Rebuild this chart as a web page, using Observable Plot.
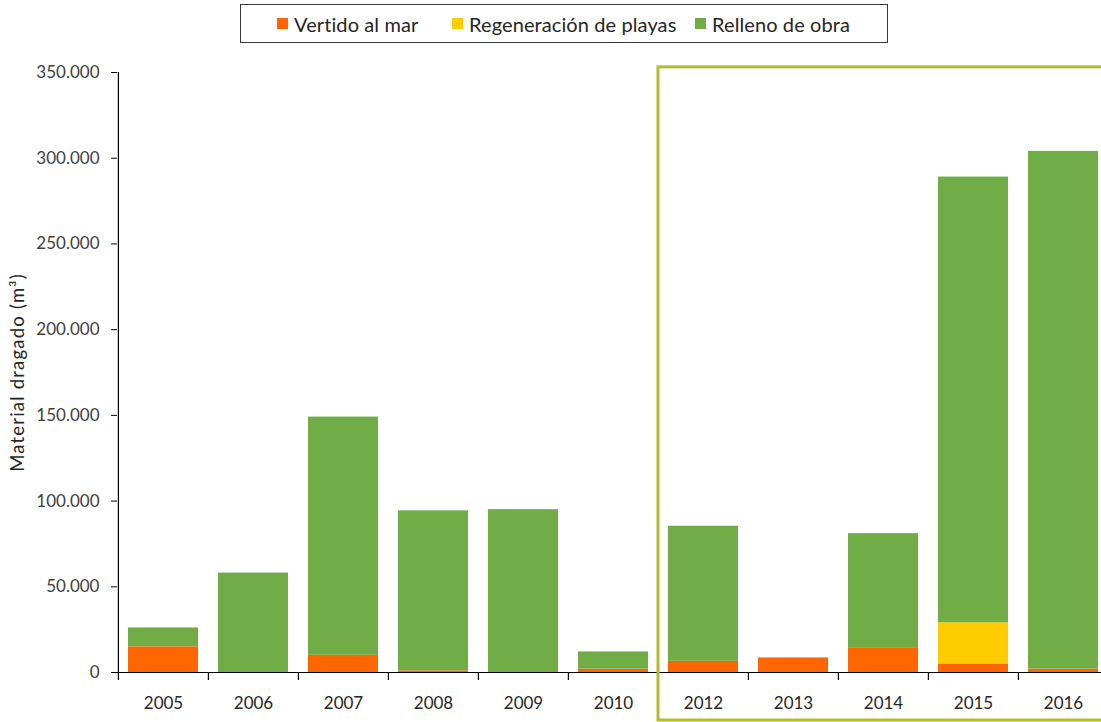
<!DOCTYPE html>
<html>
<head>
<meta charset="utf-8">
<script src="https://cdn.jsdelivr.net/npm/d3@7"></script>
<script src="https://cdn.jsdelivr.net/npm/@observablehq/plot@0.6"></script>
<style>
  html, body { margin: 0; padding: 0; background: #fff; overflow: hidden; width: 1101px; height: 722px; }
  #legend {
    position: absolute; left: 240px; top: 4px; width: 646px; height: 37px;
    border: 1px solid #3a3a3a; box-sizing: content-box;
    font-family: Lato, "Open Sans", sans-serif; font-size: 20px; letter-spacing: 0.1px; color: #262626;
  }
  #legend .item { position: absolute; top: 0; height: 37px; display: flex; align-items: center; white-space: nowrap; }
  #legend .sw { width: 11px; height: 11px; margin-right: 6px; }
  #chart { position: absolute; left: 0; top: 50px; }
  #chart svg { max-width: none !important; }
</style>
</head>
<body>
<div id="legend"></div>
<div id="chart"></div>
<script>
const years = ["2005","2006","2007","2008","2009","2010","2012","2013","2014","2015","2016"];
const series = ["Vertido al mar", "Regeneración de playas", "Relleno de obra"];
const colors = ["#ff6600", "#ffcc00", "#70ad47"];
const vertido =      [15000,     0, 10000,  1000,     0,  2000,  6500,  8500, 14500,  5000,   2000];
const regeneracion = [    0,     0,     0,     0,     0,     0,     0,     0,     0, 24000,      0];
const relleno =      [11000, 58000,139000, 93300, 95000, 10000, 78800,     0, 66500,260000, 302000];
const yTicks = [0, 50000, 100000, 150000, 200000, 250000, 300000, 350000];
const yLabel = "Material dragado (m³)";

(function () {
const values = [vertido, regeneracion, relleno];
const data = [];
series.forEach((s, si) => years.forEach((y, i) => data.push({year: y, serie: s, value: values[si][i]})));

const fmt = d3.formatLocale({decimal: ",", thousands: ".", grouping: [3]}).format(",");

// legend (entry offsets inside the legend box)
const legendOffsets = [36, 211, 454];
const leg = document.getElementById("legend");
series.forEach((s, i) => {
  const it = document.createElement("div"); it.className = "item"; it.style.left = legendOffsets[i] + "px";
  const sw = document.createElement("div"); sw.className = "sw"; sw.style.background = colors[i];
  const tx = document.createElement("span"); tx.textContent = s;
  it.appendChild(sw); it.appendChild(tx); leg.appendChild(it);
});

const mL = 117, mT = 22, mB = 50, H = 672;
const step = 90.2;
const W = Math.round(mL + step * years.length);
const pad = 20 / 90;
const yPerPx = 350000 / (H - mT - mB);

const chart = Plot.plot({
  width: W, height: H,
  marginLeft: mL, marginRight: 0, marginTop: mT, marginBottom: mB,
  style: {fontFamily: "Lato, 'Open Sans', sans-serif", fontSize: "17px", color: "#404040", background: "#fff", overflow: "visible", maxWidth: "none"},
  x: {type: "band", domain: years, paddingInner: pad, paddingOuter: pad / 2, align: 0.5},
  y: {domain: [0, 350000]},
  color: {domain: series, range: colors},
  marks: [
    Plot.barY(data, {x: "year", y: "value", fill: "serie", order: series}),
    Plot.ruleY([0], {stroke: "#000", strokeWidth: 1.2}),
    Plot.ruleX([years[0]], {x: d => d, dx: -step / 2, y1: -8 * yPerPx, y2: 350000, stroke: "#000", strokeWidth: 1.2}),
    Plot.ruleX(years.slice(1), {x: d => d, dx: -step / 2, y1: -8 * yPerPx, y2: 0, stroke: "#000", strokeWidth: 1.2}),
    Plot.axisY({ticks: yTicks, tickFormat: fmt, tickSize: 6, tickPadding: 12, stroke: "#000", label: null, fontSize: 17, fill: "#404040"}),
    Plot.axisX({tickSize: 0, tickPadding: 24, label: null, fontSize: 17, fill: "#262626"}),
    Plot.text([yLabel], {frameAnchor: "left", textAnchor: "middle", dx: -99, rotate: -90, fontSize: 18.5, fill: "#262626", text: d => d, className: "ylabel"})
  ]
});
document.getElementById("chart").appendChild(chart);
d3.select(chart).selectAll(".ylabel text").style("letter-spacing", "1.2px");

// annotation box around 2012–2016, placed from the chart's scales
const xs = chart.scale("x"), ys = chart.scale("y");
const bw = xs.bandwidth, st = xs.step || step;
const boxLeft = xs.apply("2012") - (st - bw) / 2;
const boxTop = ys.apply(353000);
const boxBottom = ys.apply(-28000);
d3.select(chart).append("rect")
  .attr("x", boxLeft).attr("y", boxTop)
  .attr("width", W - boxLeft + 20).attr("height", boxBottom - boxTop)
  .attr("fill", "none").attr("stroke", "#b3bc2e").attr("stroke-width", 3);
})();
</script>
</body>
</html>
